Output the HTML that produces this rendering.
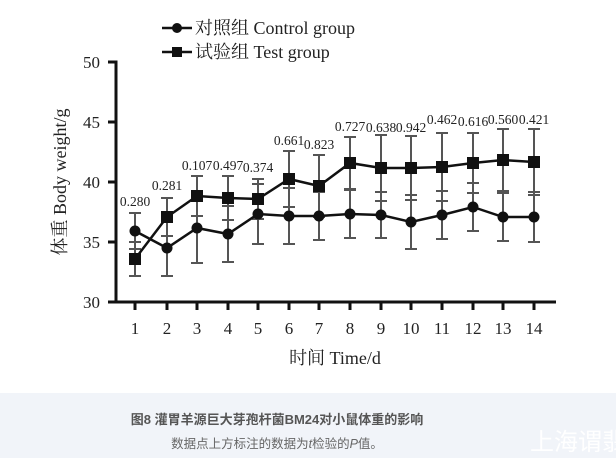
<!DOCTYPE html>
<html><head><meta charset="utf-8"><style>
body{margin:0;width:616px;height:458px;background:#fff;overflow:hidden}
svg{display:block}
</style></head><body>
<svg id="s" width="616" height="458" xmlns="http://www.w3.org/2000/svg" font-family="'Liberation Serif','Noto Serif CJK SC',serif">
<rect x="0" y="393" width="616" height="65" fill="#f1f4f9"/>
<text x="277" y="424" text-anchor="middle" font-family="'Liberation Sans','Noto Sans CJK SC',sans-serif" font-size="13" font-weight="bold" fill="#555">图8 灌胃羊源巨大芽孢杆菌BM24对小鼠体重的影响</text>
<text x="277" y="448" text-anchor="middle" font-family="'Liberation Sans','Noto Sans CJK SC',sans-serif" font-size="12.5" fill="#666">数据点上方标注的数据为<tspan font-style="italic">t</tspan>检验的<tspan font-style="italic">P</tspan>值。</text>
<text x="530" y="450" font-family="'Noto Sans CJK SC',sans-serif" font-size="24" fill="#fff">上海谓翡</text>
<g stroke="#111" stroke-width="3" fill="none">
<path d="M108,62 H116 V302 H556"/>
<path d="M108,122 H116 M108,182 H116 M108,242 H116 M108,302 H116"/>
</g>
<g font-size="17" fill="#222" text-anchor="end">
<text x="100" y="68">50</text><text x="100" y="128">45</text><text x="100" y="188">40</text><text x="100" y="248">35</text><text x="100" y="308">30</text>
</g>
<text transform="translate(66,182) rotate(-90)" text-anchor="middle" font-size="18" fill="#222">体重 Body weight/g</text>
<text x="335" y="364" text-anchor="middle" font-size="18" fill="#222">时间 Time/d</text>
<g stroke="#111" stroke-width="2.5"><line x1="162" y1="28" x2="192" y2="28"/><line x1="162" y1="52" x2="192" y2="52"/></g>
<circle cx="177" cy="28" r="5" fill="#111"/><rect x="172" y="47" width="10" height="10" fill="#111"/>
<text x="195" y="34" font-size="18" fill="#222">对照组 Control group</text>
<text x="195" y="58" font-size="18" fill="#222">试验组 Test group</text>
<g id="g"></g>
</svg>
<script>
var X=[135,167,197,228,258,289,319,350,381,411,442,473,503,534];
var C=[231,248,228,234,214,216,216,214,215,222,215,207,217,217];
var CL=[249,276,263,262,244,244,240,238,238,249,239,231,241,242];
var T=[259,217,196,198,199,179,186,163,168,168,167,163,160,162];
var TU=[242,198,176,176,179,151,155,137,135,136,133,133,129,129];
var P=["0.280","0.281","0.107","0.497","0.374","0.661","0.823","0.727","0.638","0.942","0.462","0.616","0.560","0.421"];
var LY=[206,190,170,170,172,145,149,131,132,132,124,126,124,124];
var h='';
for(var i=0;i<14;i++){
 var x=X[i];
 h+='<line x1="'+x+'" y1="302" x2="'+x+'" y2="310" stroke="#111" stroke-width="3"/>';
 h+='<text x="'+x+'" y="334" text-anchor="middle" font-size="17" fill="#222">'+(i+1)+'</text>';
 var cu=2*C[i]-CL[i], tl=2*T[i]-TU[i];
 h+='<g stroke="#555" stroke-width="2"><line x1="'+x+'" y1="'+cu+'" x2="'+x+'" y2="'+CL[i]+'"/><line x1="'+(x-6)+'" y1="'+cu+'" x2="'+(x+6)+'" y2="'+cu+'"/><line x1="'+(x-6)+'" y1="'+CL[i]+'" x2="'+(x+6)+'" y2="'+CL[i]+'"/>';
 h+='<line x1="'+x+'" y1="'+TU[i]+'" x2="'+x+'" y2="'+tl+'"/><line x1="'+(x-6)+'" y1="'+TU[i]+'" x2="'+(x+6)+'" y2="'+TU[i]+'"/><line x1="'+(x-6)+'" y1="'+tl+'" x2="'+(x+6)+'" y2="'+tl+'"/></g>';
 h+='<text x="'+x+'" y="'+LY[i]+'" text-anchor="middle" font-size="13.5" fill="#222">'+P[i]+'</text>';
}
var pc='',pt='';
for(i=0;i<14;i++){pc+=(i?'L':'M')+X[i]+','+C[i];pt+=(i?'L':'M')+X[i]+','+T[i];}
h+='<path d="'+pc+'" stroke="#111" stroke-width="2.5" fill="none"/><path d="'+pt+'" stroke="#111" stroke-width="2.5" fill="none"/>';
for(i=0;i<14;i++){h+='<circle cx="'+X[i]+'" cy="'+C[i]+'" r="5.5" fill="#111"/><rect x="'+(X[i]-6)+'" y="'+(T[i]-6)+'" width="12" height="12" fill="#111"/>';}
document.getElementById('g').innerHTML=h;
</script>
</body></html>
